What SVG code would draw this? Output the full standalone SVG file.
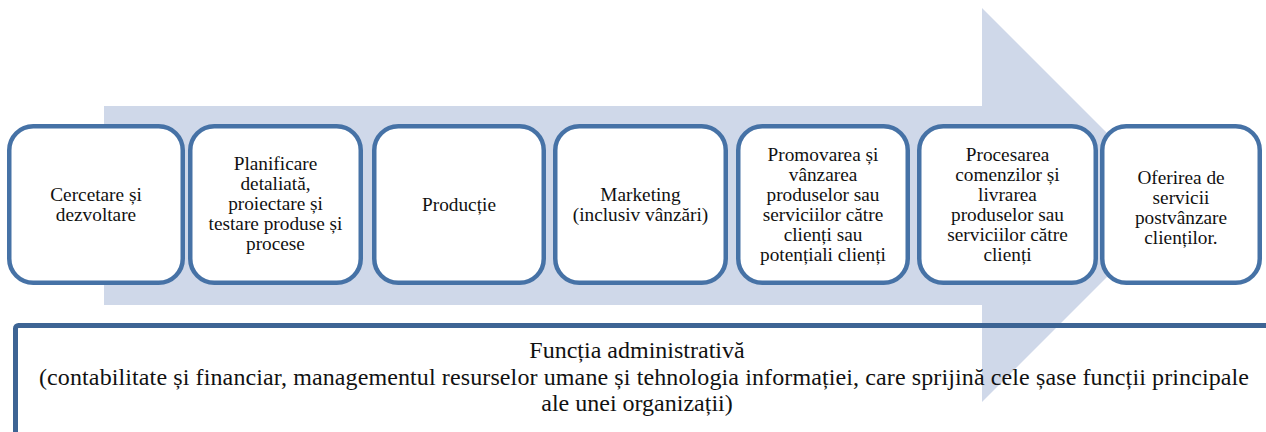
<svg xmlns="http://www.w3.org/2000/svg" width="1266" height="432" viewBox="0 0 1266 432">
<defs>
<style>
.box{fill:#ffffff;stroke:#4672a6;stroke-width:4.5}
.t{font-family:'Liberation Serif','Times New Roman',Times,'DejaVu Serif',serif;font-size:19.3px;fill:#111;text-anchor:middle}
.b{font-family:'Liberation Serif','Times New Roman',Times,'DejaVu Serif',serif;font-size:24px;fill:#111;text-anchor:middle}
</style>
</defs>
<rect width="1266" height="432" fill="#ffffff"/>
<g id="connectors">
<path id="arrow" d="M104,106 H982 V8 L1179,205 L982,402 V305 H104 Z" fill="#cfd8e9"/>
</g>
<g id="admin">
<rect x="15.5" y="325.5" width="1275" height="150" rx="3" fill="none" stroke="#3d6494" stroke-width="5"/>
<text class="b" x="637" y="358">Funcția administrativă</text>
<text class="b" x="644" y="385" textLength="1210" lengthAdjust="spacing">(contabilitate și financiar, managementul resurselor umane și tehnologia informației, care sprijină cele șase funcții principale</text>
<text class="b" x="637" y="411">ale unei organizații)</text>
</g>
<g id="n1">
<rect class="box" x="9.25" y="126.25" width="173.5" height="156.5" rx="24"/>
<text class="t" x="96" y="201">Cercetare și</text>
<text class="t" x="96" y="221">dezvoltare</text>
</g>
<g id="n2">
<rect class="box" x="190.25" y="126.25" width="170.5" height="156.5" rx="24"/>
<text class="t" x="275.5" y="170">Planificare</text>
<text class="t" x="275.5" y="190">detaliată,</text>
<text class="t" x="275.5" y="210">proiectare și</text>
<text class="t" x="275.5" y="230">testare produse și</text>
<text class="t" x="275.5" y="250">procese</text>
</g>
<g id="n3">
<rect class="box" x="374.25" y="126.25" width="169.5" height="156.5" rx="24"/>
<text class="t" x="459" y="211">Producție</text>
</g>
<g id="n4">
<rect class="box" x="555.25" y="126.25" width="170.5" height="156.5" rx="24"/>
<text class="t" x="640.5" y="201">Marketing</text>
<text class="t" x="640.5" y="221">(inclusiv vânzări)</text>
</g>
<g id="n5">
<rect class="box" x="738.25" y="126.25" width="169.5" height="156.5" rx="24"/>
<text class="t" x="823" y="161">Promovarea și</text>
<text class="t" x="823" y="181">vânzarea</text>
<text class="t" x="823" y="201">produselor sau</text>
<text class="t" x="823" y="221">serviciilor către</text>
<text class="t" x="823" y="241">clienți sau</text>
<text class="t" x="823" y="261">potențiali clienți</text>
</g>
<g id="n6">
<rect class="box" x="919.25" y="126.25" width="176.5" height="156.5" rx="24"/>
<text class="t" x="1007.5" y="161">Procesarea</text>
<text class="t" x="1007.5" y="181">comenzilor și</text>
<text class="t" x="1007.5" y="201">livrarea</text>
<text class="t" x="1007.5" y="221">produselor sau</text>
<text class="t" x="1007.5" y="241">serviciilor către</text>
<text class="t" x="1007.5" y="261">clienți</text>
</g>
<g id="n7">
<rect class="box" x="1102.25" y="126.25" width="157.5" height="156.5" rx="24"/>
<text class="t" x="1181" y="184">Oferirea de</text>
<text class="t" x="1181" y="204">servicii</text>
<text class="t" x="1181" y="224">postvânzare</text>
<text class="t" x="1181" y="244">clienților.</text>
</g>
</svg>
